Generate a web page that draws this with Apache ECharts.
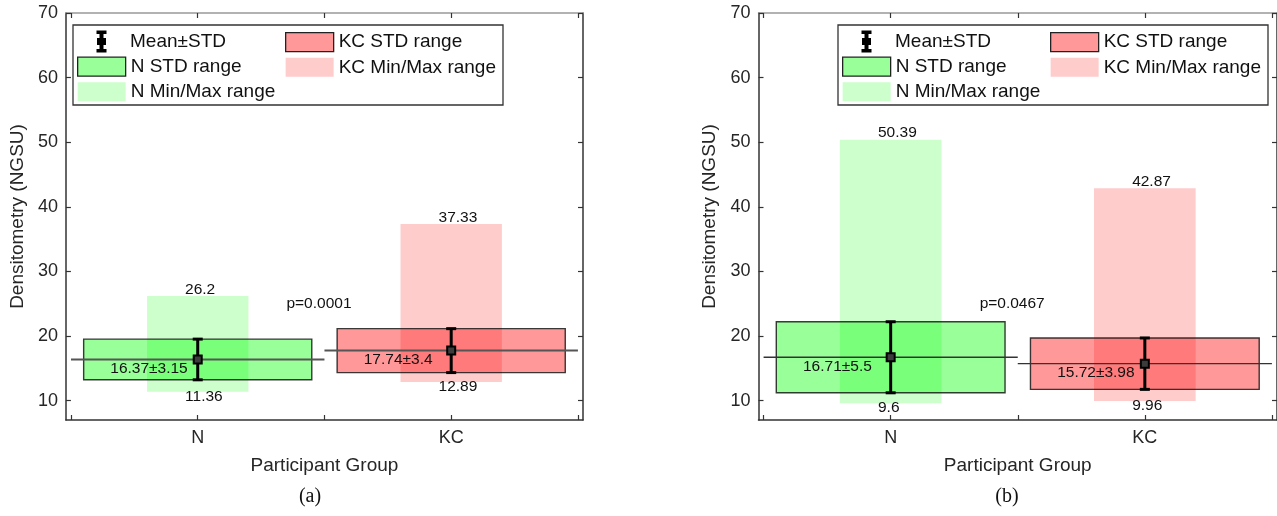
<!DOCTYPE html>
<html><head><meta charset="utf-8">
<script src="https://cdn.jsdelivr.net/npm/echarts@6/dist/echarts.min.js"></script>
<style>
html,body{margin:0;padding:0;background:#fff;width:1277px;height:516px;overflow:hidden}
#a{position:absolute;left:0;top:0;width:640px;height:516px}
#b{position:absolute;left:640px;top:0;width:637px;height:516px}
</style></head>
<body><div id="a"></div><div id="b"></div>
<script>
// ---------- data ----------
const categories = ['N', 'KC'];
const groupPositions = [1, 2];
const xTickValues = [0.5, 1, 1.5, 2, 2.5];
const yTickValues = [10, 20, 30, 40, 50, 60, 70];
// panel (a)
const meanA = [16.37, 17.74];
const stdA = [3.15, 3.4];
const minA = [11.36, 12.89];
const maxA = [26.2, 37.33];
const pValueA = 'p=0.0001';
// panel (b)
const meanB = [16.71, 15.72];
const stdB = [5.5, 3.98];
const minB = [9.6, 9.96];
const maxB = [50.39, 42.87];
const pValueB = 'p=0.0467';
const panelLabels = ['(a)', '(b)'];
const xAxisTitle = 'Participant Group';
const yAxisTitle = 'Densitometry (NGSU)';

// ---------- styling ----------
const FONT = '"Liberation Sans", Arial, Helvetica, sans-serif';
const groupRGB = ['0,255,0', '255,0,0'];
const LABEL_FONT = '15.5px ' + FONT;
const errorIcon = 'path://M0,0H10V3.5H7V7.5H9.5V14.5H7V18.5H10V22H0V18.5H3V14.5H0.5V7.5H3V3.5H0Z';

function buildOption(cfg) {
  const series = [];
  // Min/Max range bars
  categories.forEach((name, i) => {
    series.push({
      name: name + ' Min/Max range', type: 'custom', z: 2, clip: false,
      itemStyle: { color: `rgba(${groupRGB[i]},0.2)` },
      data: [[groupPositions[i], cfg.min[i], cfg.max[i]]],
      renderItem: (params, api) => {
        const x = api.value(0), lo = api.value(1), hi = api.value(2);
        const tl = api.coord([x - 0.2, hi]), br = api.coord([x + 0.2, lo]);
        const lx = api.coord([x - 0.05, hi])[0];
        return { type: 'group', children: [
          { type: 'rect', shape: { x: tl[0], y: tl[1], width: br[0] - tl[0], height: br[1] - tl[1] },
            style: { fill: `rgba(${groupRGB[i]},0.2)` } },
          { type: 'text', x: lx, y: tl[1] + 1.5, z2: 20,
            style: { text: String(hi), font: LABEL_FONT, fill: '#111', align: 'left', verticalAlign: 'bottom' } },
          { type: 'text', x: lx, y: br[1] - 3.5, z2: 20,
            style: { text: String(lo), font: LABEL_FONT, fill: '#111', align: 'left', verticalAlign: 'top' } }
        ]};
      }
    });
  });
  // STD range boxes
  categories.forEach((name, i) => {
    series.push({
      name: name + ' STD range', type: 'custom', z: 3, clip: false,
      itemStyle: { color: `rgba(${groupRGB[i]},0.4)` },
      data: [[groupPositions[i], cfg.mean[i] - cfg.std[i], cfg.mean[i] + cfg.std[i]]],
      renderItem: (params, api) => {
        const x = api.value(0), lo = api.value(1), hi = api.value(2);
        const tl = api.coord([x - 0.45, hi]), br = api.coord([x + 0.45, lo]);
        return { type: 'rect', shape: { x: tl[0], y: tl[1], width: br[0] - tl[0], height: br[1] - tl[1] },
          style: { fill: `rgba(${groupRGB[i]},0.4)`, stroke: 'rgba(25,25,25,0.85)', lineWidth: 1.4 } };
      }
    });
  });
  // Mean ± STD
  series.push({
    name: 'Mean±STD', type: 'custom', z: 4, clip: false,
    itemStyle: { color: '#000' },
    data: categories.map((c, i) => [groupPositions[i], cfg.mean[i], cfg.std[i]]),
    renderItem: (params, api) => {
      const x = api.value(0), m = api.value(1), s = api.value(2);
      const l = api.coord([x - 0.5, m]), r = api.coord([x + 0.5, m]);
      const c = api.coord([x, m]), top = api.coord([x, m + s]), bot = api.coord([x, m - s]);
      const lab = api.coord([x - 0.345, m]);
      return { type: 'group', children: [
        { type: 'line', shape: { x1: l[0], y1: l[1], x2: r[0], y2: r[1] }, style: { stroke: cfg.meanLineColor, lineWidth: cfg.meanLineWidth } },
        { type: 'line', shape: { x1: c[0], y1: top[1], x2: c[0], y2: bot[1] }, style: { stroke: '#000', lineWidth: 3 } },
        { type: 'line', shape: { x1: c[0] - 5, y1: top[1], x2: c[0] + 5, y2: top[1] }, style: { stroke: '#000', lineWidth: 3 } },
        { type: 'line', shape: { x1: c[0] - 5, y1: bot[1], x2: c[0] + 5, y2: bot[1] }, style: { stroke: '#000', lineWidth: 3 } },
        { type: 'rect', shape: { x: c[0] - 4, y: c[1] - 4, width: 8, height: 8 }, style: { fill: '#3c3c3c', stroke: '#000', lineWidth: 2 } },
        { type: 'text', x: lab[0], y: lab[1] + 1, z2: 20,
          style: { text: `${m}±${s}`, font: LABEL_FONT, fill: '#111', align: 'left', verticalAlign: 'top' } }
      ]};
    }
  });
  // p-value annotation
  series.push({
    name: 'p-value', type: 'custom', z: 5, clip: false,
    data: [[1.35, 25]],
    renderItem: (params, api) => {
      const p = api.coord([api.value(0), api.value(1)]);
      return { type: 'text', x: p[0], y: p[1],
        style: { text: cfg.pText, font: LABEL_FONT, fill: '#111', align: 'left', verticalAlign: 'middle' } };
    }
  });

  const axisColor = '#333';
  const L = cfg.legendLeft;
  const legendText = { fontSize: 19, fontFamily: FONT, color: '#111', lineHeight: 19 };
  return {
    animation: false,
    backgroundColor: '#fff',
    grid: { left: cfg.gridLeft, top: 13, width: cfg.gridWidth, height: 407, containLabel: false },
    xAxis: [
      { type: 'value', min: 0.48, max: 2.52, position: 'bottom',
        axisLine: { show: true, onZero: false, lineStyle: { color: axisColor, width: 1.5 } },
        axisTick: { show: true, inside: true, length: 5, customValues: xTickValues, lineStyle: { color: axisColor, width: 1.2 } },
        axisLabel: { show: true, customValues: groupPositions, formatter: v => categories[groupPositions.indexOf(v)],
          fontSize: 18, fontFamily: FONT, color: '#262626', margin: 9 },
        splitLine: { show: false },
        name: xAxisTitle, nameLocation: 'middle', nameGap: 36,
        nameTextStyle: { fontSize: 19, fontFamily: FONT, color: '#262626' } },
      { type: 'value', min: 0.48, max: 2.52, position: 'top',
        axisLine: { show: true, onZero: false, lineStyle: { color: '#999', width: 1.5 } },
        axisTick: { show: true, inside: true, length: 5, customValues: xTickValues, lineStyle: { color: axisColor, width: 1.2 } },
        axisLabel: { show: false }, splitLine: { show: false } }
    ],
    yAxis: [
      { type: 'value', min: 7, max: 70, position: 'left',
        axisLine: { show: true, onZero: false, lineStyle: { color: axisColor, width: 1.5 } },
        axisTick: { show: true, inside: true, length: 5, customValues: yTickValues, lineStyle: { color: axisColor, width: 1.2 } },
        axisLabel: { show: true, customValues: yTickValues, fontSize: 18, fontFamily: FONT, color: '#262626', margin: 8 },
        splitLine: { show: false },
        name: yAxisTitle, nameLocation: 'middle', nameGap: 35.5,
        nameTextStyle: { fontSize: 19, fontFamily: FONT, color: '#262626' } },
      { type: 'value', min: 7, max: 70, position: 'right',
        axisLine: { show: true, onZero: false, lineStyle: { color: axisColor, width: 1.5 } },
        axisTick: { show: true, inside: true, length: 5, customValues: yTickValues, lineStyle: { color: axisColor, width: 1.2 } },
        axisLabel: { show: false }, splitLine: { show: false } }
    ],
    legend: [
      { data: [{ name: 'Mean±STD', icon: errorIcon, itemStyle: { color: '#000', borderWidth: 0 } }],
        left: L + 23.5, top: 30.5, padding: 0, itemWidth: 10, itemHeight: 22, selectedMode: false,
        textStyle: Object.assign({}, legendText, { padding: [0, 0, 0, 18.5] }) },
      { data: [
          { name: 'N STD range', icon: 'rect', itemStyle: { color: 'rgb(153,255,153)', borderColor: '#222', borderWidth: 1.3 } },
          { name: 'N Min/Max range', icon: 'rect', itemStyle: { color: 'rgb(204,255,204)', borderWidth: 0 } }],
        orient: 'vertical', left: L + 4, top: 56.5, padding: 0, itemWidth: 48, itemHeight: 19, itemGap: 5.5,
        selectedMode: false, textStyle: legendText },
      { data: [
          { name: 'KC STD range', icon: 'rect', itemStyle: { color: 'rgb(255,153,153)', borderColor: '#222', borderWidth: 1.3 } },
          { name: 'KC Min/Max range', icon: 'rect', itemStyle: { color: 'rgb(255,204,204)', borderWidth: 0 } }],
        orient: 'vertical', left: L + 212, top: 32, padding: 0, itemWidth: 48, itemHeight: 19, itemGap: 5.5,
        selectedMode: false, textStyle: legendText }
    ],
    graphic: [
      { type: 'rect', x: L, y: 25, z: 3, shape: { x: 0, y: 0, width: 430, height: 80 },
        style: { fill: '#fff', stroke: '#333', lineWidth: 1.3 } },
      { type: 'text', x: cfg.panelLabelX, y: 497, z: 3,
        style: { text: cfg.panelLabel, font: '20px "Liberation Serif", "Times New Roman", serif', fill: '#111', align: 'center', verticalAlign: 'middle' } }
    ],
    series
  };
}

const chartA = echarts.init(document.getElementById('a'));
chartA.setOption(buildOption({
  mean: meanA, std: stdA, min: minA, max: maxA, pText: pValueA,
  gridLeft: 61, gridWidth: 522, legendLeft: 73, panelLabel: panelLabels[0], panelLabelX: 310,
  meanLineColor: '#555', meanLineWidth: 2
}));
const chartB = echarts.init(document.getElementById('b'));
chartB.setOption(buildOption({
  mean: meanB, std: stdB, min: minB, max: maxB, pText: pValueB,
  gridLeft: 118.5, gridWidth: 521, legendLeft: 198, panelLabel: panelLabels[1], panelLabelX: 367,
  meanLineColor: '#333', meanLineWidth: 1.4
}));
</script>
</body></html>
